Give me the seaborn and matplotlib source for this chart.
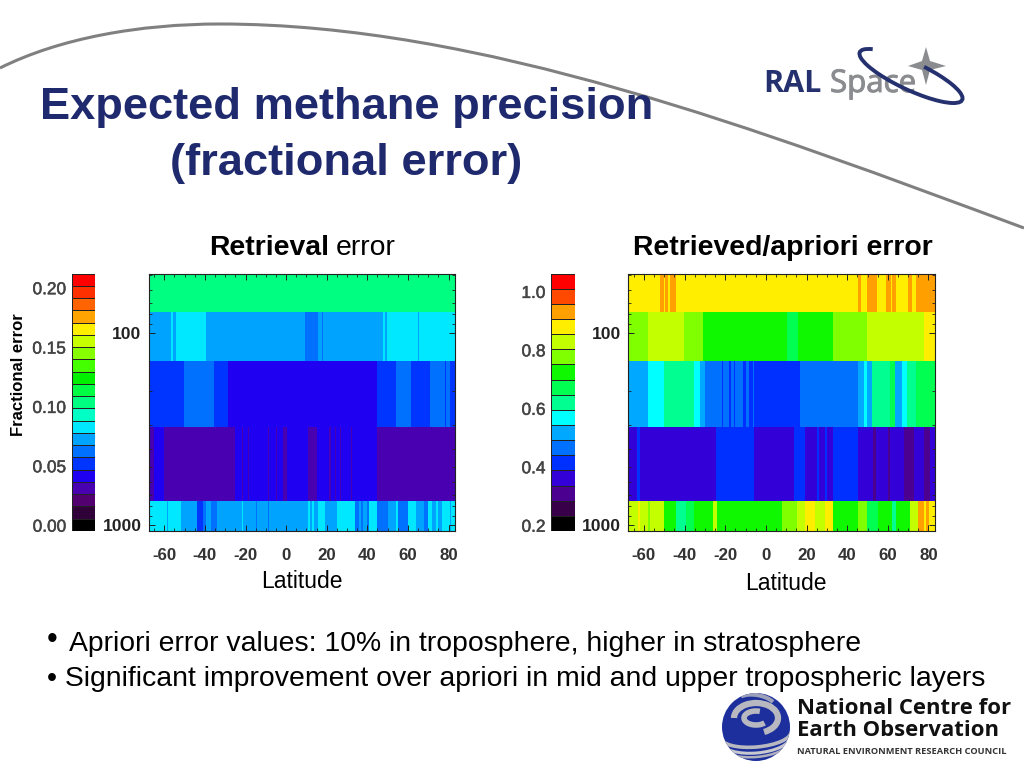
import numpy as np
import matplotlib
matplotlib.use("Agg")
import matplotlib.pyplot as plt
import matplotlib.patheffects as pe
from matplotlib.colors import ListedColormap
from matplotlib.patches import Circle, Arc, Polygon, PathPatch
from matplotlib.path import Path
from matplotlib.ticker import FixedLocator
import seaborn as sns

sns.set_theme(style="white")
plt.rcParams["font.family"] = ["Liberation Sans", "DejaVu Sans"]

# ---------- data ----------
pressure_edges = [49, 78, 140, 310, 750, 1075]
lat_range = [-67.8, 83.3]

# left panel: retrieval error (layers top to bottom); breaks are latitudes
ret_breaks_1 = []
ret_values_1 = [.104]
ret_breaks_2 = [-56.6, -55.8, -54.2, -39.6, 9.5, 15.6, 17.6, 18, 48, 48.8, 49.6, 65.2, 65.7]
ret_values_2 = [.073, .083, .073, .083, .073, .063, .073, .063, .073, .083, .073, .083, .073, .083]
ret_breaks_3 = [-50.4, -35.5, -28.7, 44.7, 54, 61.7, 71, 78.3, 79, 80.8]
ret_values_3 = [.052, .063, .052, .042, .052, .063, .052, .063, .052, .063, .052]
ret_breaks_4 = [-65, -60.4, -25, -21.8, -21.3, -18.5, -18, -9, -8.5, -5, -4.5, -1.5, .5, 11, 15.5,
                21, 22, 24, 24.5, 26.5, 27, 32, 32.5, 44.7]
ret_values_4 = [.032, .042, .032, .042, .032, .042, .032, .042, .032, .042, .032, .042, .032, .042, .032,
                .042, .032, .042, .032, .042, .032, .042, .032, .042, .032]
ret_breaks_5 = [-58.5, -58, -51.7, -43.7, -41, -39.5, -37, -34, -21.5, -21, -15, -14.5, -9, -8.5, 11, 12,
                13, 14, 16, 19, 25, 34, 36, 37, 38, 40, 41, 45, 50, 54, 55, 60, 64, 68, 70, 72, 74, 75,
                77, 81, 81.5]
ret_values_5 = [.083, .073, .083, .073, .052, .063, .073, .063, .073, .083, .073, .063, .073, .063, .073, .083,
                .073, .083, .073, .083, .073, .083, .063, .073, .063, .073, .063, .083, .063, .073, .083, .063,
                .083, .073, .063, .083, .073, .083, .073, .083, .073, .083]

# right panel: retrieved / apriori error
rat_breaks_1 = [-52.4, -50, -49.5, -48, -47, -44.2, 45.5, 47, 50, 54.8, 58.9, 61.4, 62.2, 64.2, 69.6, 72, 73.6]
rat_values_1 = [.873, .925, .873, .925, .873, .925, .873, .925, .873, .925, .873, .925, .873, .925, .873, .925,
                .873, .925]
rat_breaks_2 = [-57.8, -54.5, -40.2, -31, 10.3, 15.8, 33.3, 49.8, 77.7]
rat_values_2 = [.77, .82, .82, .77, .72, .67, .72, .77, .82, .873]
rat_breaks_3 = [-57.8, -50.4, -35.6, -32.4, -29.9, -21.7, -21, -18, -17, -15.6, -15, -11, -9.5, -8, -6.5, -6,
                17, 19.9, 45.3, 48.5, 50, 52.5, 61, 63.7, 67, 69.5, 73.6]
rat_values_3 = [.52, .57, .62, .57, .52, .465, .414, .465, .414, .465, .414, .465, .414, .465, .414, .465,
                .414, .465, .465, .52, .57, .52, .62, .67, .52, .57, .62, .67]
rat_breaks_4 = [-63.6, -62, -24.6, -6.1, 13.6, 19.4, 25, 26, 29, 30, 33, 45.3, 53, 54, 60, 61, 68, 72.7, 77.6, 81]
rat_values_4 = [.362, .414, .362, .414, .362, .414, .362, .414, .362, .414, .362, .414, .362, .31, .362, .31, .362,
                .31, .362, .31, .362]
rat_breaks_5 = [-63, -62, -58, -57, -50.4, -44.2, -39, -35.6, -26, -23.7, 8, 15.4, 19.4, 24, 29, 33.3, 45.3, 50, 55,
                62, 64, 71, 75, 78, 79, 80.5]
rat_values_5 = [.82, .873, .82, .77, .82, .72, .62, .67, .72, .82, .72, .77, .82, .873, .82, .873, .72, .77, .67,
                .72, .62, .72, .82, .925, .873, .925, .873]

ret_layers = [(ret_breaks_1, ret_values_1), (ret_breaks_2, ret_values_2), (ret_breaks_3, ret_values_3),
              (ret_breaks_4, ret_values_4), (ret_breaks_5, ret_values_5)]
rat_layers = [(rat_breaks_1, rat_values_1), (rat_breaks_2, rat_values_2), (rat_breaks_3, rat_values_3),
              (rat_breaks_4, rat_values_4), (rat_breaks_5, rat_values_5)]

# colour tables, low to high
ret_colors = ["#000000", "#300038", "#520070", "#4800b0", "#2000f0", "#0034ff", "#0070ff", "#00a4ff", "#00e8ff",
              "#00ffc4", "#00ff80", "#00ff44", "#00f000", "#44ff00", "#88ff00", "#c8ff00", "#ffee00", "#ffa400",
              "#ff6400", "#ff3000", "#ff0000"]
rat_colors = ["#000000", "#380048", "#4c0090", "#3400d8", "#0030ff", "#0070ff", "#00a8ff", "#00ffff", "#00ff90",
              "#00ff50", "#10f800", "#80ff00", "#c4ff00", "#ffee00", "#ffa000", "#ff4800", "#ff0000"]
ret_scale = [-0.0045, 0.2124]
rat_scale = [0.182, 1.063]
ret_cbar_ticks = [0.00, 0.05, 0.10, 0.15, 0.20]
rat_cbar_ticks = [0.2, 0.4, 0.6, 0.8, 1.0]
lat_ticks = [-60, -40, -20, 0, 20, 40, 60, 80]
lat_minor = list(range(-65, 85, 5))
p_major = [100, 1000]
p_minor = [50, 60, 70, 80, 90, 200, 300, 400, 500, 600, 700, 800, 900]

NAVY = "#1f2a6e"
W, H = 1024, 768
fig = plt.figure(figsize=(W / 100, H / 100), dpi=100, facecolor="white")


def px_axes(x0, y0, x1, y1, **kw):
    return fig.add_axes([x0 / W, 1 - y1 / H, (x1 - x0) / W, (y1 - y0) / H], **kw)


def build_grid(layers):
    lat_centres = np.arange(lat_range[0] + .125, lat_range[1], .25)
    logp = np.linspace(np.log10(pressure_edges[0]), np.log10(pressure_edges[-1]), 259)
    mids = 10 ** ((logp[:-1] + logp[1:]) / 2)
    grid = np.zeros((mids.size, lat_centres.size))
    for r, p in enumerate(mids):
        k = min(np.searchsorted(pressure_edges, p) - 1, 4)
        brk, val = layers[k]
        grid[r] = np.array(val)[np.searchsorted(brk, lat_centres)]
    return grid, logp


def draw_panel(box, layers, colors, scale):
    ax = px_axes(*box)
    grid, logp = build_grid(layers)
    sns.heatmap(grid, ax=ax, cmap=ListedColormap(colors), vmin=scale[0], vmax=scale[1], cbar=False,
                xticklabels=False, yticklabels=False)
    ax.set_axisbelow(False)
    nrow, ncol = grid.shape
    xpos = lambda v: (np.asarray(v) - lat_range[0]) / .25
    ypos = lambda p: (np.log10(p) - logp[0]) / (logp[-1] - logp[0]) * nrow
    ax.set_xticks(xpos(lat_ticks))
    ax.set_xticklabels([str(v) for v in lat_ticks])
    ax.xaxis.set_minor_locator(FixedLocator(xpos(lat_minor)))
    ax.set_yticks(ypos(np.array(p_major, float)))
    ax.set_yticklabels([str(v) for v in p_major], rotation=0)
    ax.yaxis.set_minor_locator(FixedLocator(ypos(np.array(p_minor, float))))
    ax.tick_params(axis="x", which="major", direction="in", length=4.5, width=.7, top=True, bottom=True,
                   pad=12, labelsize=12.2, labelcolor="#333333", color="#222222")
    ax.tick_params(axis="x", which="minor", direction="in", length=2.2, width=.6, top=True, bottom=True,
                   color="#222222")
    ax.tick_params(axis="y", which="major", direction="in", length=4.5, width=.7, left=True, right=True,
                   pad=5, labelsize=12.6, labelcolor="#222222", color="#222222")
    ax.tick_params(axis="y", which="minor", direction="in", length=2.2, width=.6, left=True, right=True,
                   color="#222222")
    for lab in ax.get_xticklabels() + ax.get_yticklabels():
        lab.set_fontweight("bold")
    for s in ax.spines.values():
        s.set_visible(True)
        s.set_linewidth(.8)
        s.set_color("#222222")
    return ax


def draw_cbar(box, colors, scale, ticks, fmt):
    ax = px_axes(*box)
    n = len(colors)
    step = (scale[1] - scale[0]) / n
    vals = (scale[0] + step * (np.arange(n)[::-1] + .5)).reshape(-1, 1)
    sns.heatmap(vals, ax=ax, cmap=ListedColormap(colors), vmin=scale[0], vmax=scale[1], cbar=False,
                xticklabels=False, yticklabels=False, linewidths=.6, linecolor="#222222")
    ax.set_yticks((scale[1] - np.array(ticks)) / step)
    ax.set_yticklabels([fmt % t for t in ticks], rotation=0)
    ax.tick_params(axis="y", length=0, pad=4, labelsize=12.4, labelcolor="#444444")
    for lab in ax.get_yticklabels():
        lab.set_path_effects([pe.withStroke(linewidth=.35, foreground="#444444")])
    return ax


# overlay for slide furniture, in pixel coordinates
ov = fig.add_axes([0, 0, 1, 1], zorder=5)
ov.set_xlim(0, W)
ov.set_ylim(H, 0)
ov.axis("off")
ov.patch.set_alpha(0)

# swoosh
sw_path = Path([(0, 68), (60, 38), (140, 24), (220, 24), (480, 24), (760, 130), (1024, 228)],
               [Path.MOVETO] + [Path.CURVE4] * 6)
ov.add_patch(PathPatch(sw_path, fc="none", ec="#808080", lw=2.2))

# heading
ov.text(346.5, 107, "Expected methane precision", ha="center", va="center", fontsize=32.6,
        fontweight="bold", color=NAVY)
ov.text(346.5, 164, "(fractional error)", ha="center", va="center", fontsize=32.6,
        fontweight="bold", color=NAVY)

# panel titles
ov.text(209, 248, "Retrieval", ha="left", va="center", fontsize=20.4, fontweight="bold", color="black")
ov.text(336, 248, "error", ha="left", va="center", fontsize=20.4, color="black")
ov.text(782.5, 248, "Retrieved/apriori error", ha="center", va="center", fontsize=20.4, fontweight="bold",
        color="black")

# panels
draw_panel((148.5, 273.5, 455, 531), ret_layers, ret_colors, ret_scale)
draw_panel((628, 273.5, 935, 531), rat_layers, rat_colors, rat_scale)
draw_cbar((71.5, 273.5, 95, 531), ret_colors, ret_scale, ret_cbar_ticks, "%.2f")
draw_cbar((551, 273.5, 575, 531), rat_colors, rat_scale, rat_cbar_ticks, "%.1f")

ov.text(19, 375, "Fractional error", rotation=90, ha="center", va="center", fontsize=12,
        fontweight="bold", color="black")
ov.text(302, 582, "Latitude", ha="center", va="center", fontsize=16.5, color="black")
ov.text(786, 584, "Latitude", ha="center", va="center", fontsize=16.5, color="black")

# bullets
ov.text(47, 640, "\u2022", ha="left", va="center", fontsize=22, color="black")
ov.text(69, 644, "Apriori error values: 10% in troposphere, higher in stratosphere", ha="left", va="center",
        fontsize=20.4, color="black")
ov.text(47, 679.5, "\u2022 Significant improvement over apriori in mid and upper tropospheric layers", ha="left",
        va="center", fontsize=20.45, color="black")

# RAL Space logo
ov.text(763, 84, "RAL", ha="left", va="center", fontsize=22, fontweight="bold", color="#25316f",
        family="Open Sans")
ov.text(830, 84, "Space", ha="left", va="center", fontsize=22.5, color="#8a8c8f", family="Open Sans",
        path_effects=[pe.withStroke(linewidth=.7, foreground="#8a8c8f")])
ov.add_patch(Polygon([(926, 47), (930, 61), (946, 66), (930, 70), (926, 85), (922, 70), (908, 66), (922, 61)],
                     closed=True, fc="#8a8c8f", ec="none", zorder=2))
ov.add_patch(Arc((911, 76), 113, 28, angle=25, theta1=-60, theta2=190, color="#25316f", lw=2.8, zorder=3))

# NCEO logo
ball = Circle((756, 727), 34, fc="#1c2f9c", ec="none")
ov.add_patch(ball)
for (cx, cy, w, h, ang, t1, t2, col, lw) in [
    (756, 718, 44, 30, 0, 180, 420, "#b8b8c0", 4.5),
    (756, 718, 24, 14, 0, 30, 300, "#b8b8c0", 4),
    (756, 735, 70, 24, -5, 0, 180, "#b8b8c0", 2.6),
    (756, 740, 68, 26, -5, 0, 180, "#c8c8d0", 2.2),
    (756, 746, 62, 22, -5, 0, 180, "#b0b0bc", 1.8),
    (756, 705, 40, 20, 10, 200, 340, "#9ca0b8", 3),
]:
    a = Arc((cx, cy), w, h, angle=ang, theta1=t1, theta2=t2, color=col, lw=lw)
    ov.add_patch(a)
    a.set_clip_path(ball)
ov.text(797, 709, "National Centre for", ha="left", va="center", fontsize=15.9, fontweight="bold",
        color="#111111", family="Open Sans")
ov.text(797, 731, "Earth Observation", ha="left", va="center", fontsize=15.95, fontweight="bold",
        color="#111111", family="Open Sans")
ov.text(797, 752, "NATURAL ENVIRONMENT RESEARCH COUNCIL", ha="left", va="center", fontsize=6.7,
        fontweight="bold", color="#333333", family="Open Sans")

fig.savefig("out.png", dpi=100)
